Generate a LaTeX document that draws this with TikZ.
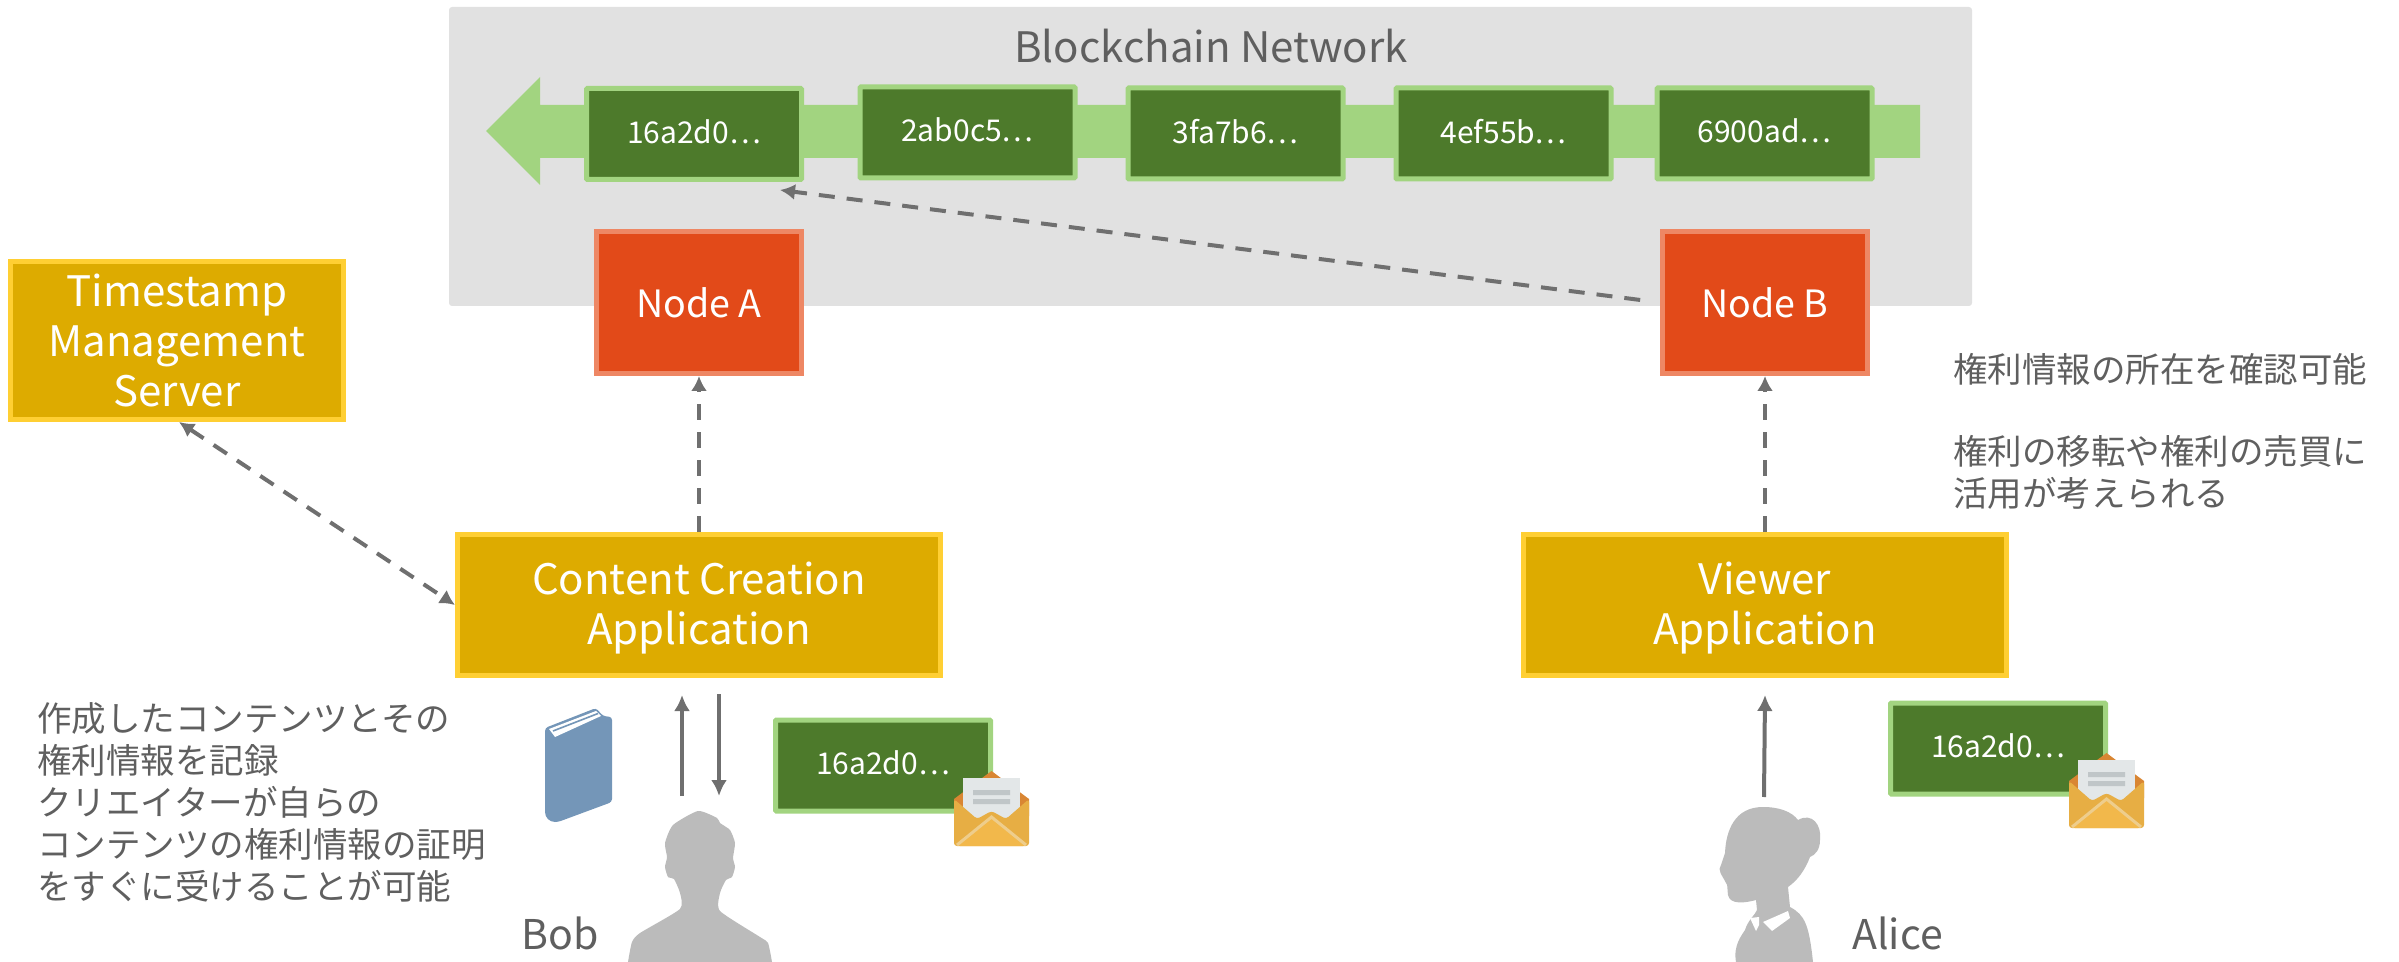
\documentclass[tikz,border=0pt]{standalone}
\usepackage{fontspec}
\setmainfont{Noto Sans CJK JP}
\usetikzlibrary{arrows.meta,calc,positioning}
\definecolor{netgray}{HTML}{E1E1E1}
\definecolor{chaingreen}{HTML}{A2D480}
\definecolor{blockgreen}{HTML}{4D7A2B}
\definecolor{nodered}{HTML}{E24A19}
\definecolor{nodeedge}{HTML}{EE8764}
\definecolor{appyellow}{HTML}{DDAB00}
\definecolor{appedge}{HTML}{FFCF33}
\definecolor{linegray}{HTML}{6F6F6F}
\definecolor{textgray}{HTML}{5F5F5F}
\definecolor{figgray}{HTML}{BBBBBB}
\definecolor{bookblue}{HTML}{7496B8}
\newcommand{\toprule}{\rule{0pt}{19pt}}
\tikzset{
    auto,node distance =27pt and 27pt,
    block/.style ={rectangle, draw=chaingreen, fill=blockgreen, line width=2.5pt, rounded corners=0.5pt,
        minimum width=107.5pt, minimum height=45.5pt, inner sep=0pt, text depth=2.5pt, text=white, font=\fontsize{15}{18}\selectfont},
    peer/.style ={rectangle, draw=nodeedge, fill=nodered, line width=2.5pt,
        minimum width=102.5pt, minimum height=71pt, inner sep=0pt, text=white, font=\fontsize{18.8}{22}\selectfont},
    app/.style ={rectangle, draw=appedge, fill=appyellow, line width=2.5pt, align=center,
        minimum width=241.5pt, minimum height=70.5pt, inner sep=0pt, text=white, font=\fontsize{21}{25}\selectfont},
    note/.style = {anchor=west, align=left, inner sep=0pt, text=textgray, font=\fontsize{17.25}{21}\selectfont},
    person/.style = {anchor=west, inner sep=0pt, text=textgray, font=\fontsize{20.5}{24}\selectfont},
    flow/.style = {-{Latex[length=8pt,width=8pt]}, draw=linegray, line width=2pt},
    link/.style = {-{Latex[length=7.5pt,width=8pt]}, draw=linegray, line width=2pt, dash pattern=on 8pt off 6pt},
    bilink/.style = {link, {Latex[length=7.5pt,width=8pt]}-{Latex[length=7.5pt,width=8pt]}},
    envelope/.pic = {
        \fill[fill={rgb,255:red,217;green,134;blue,51}] (0,28) -- (37.5,0) -- (75,28) -- (75,45) -- (0,45) -- cycle;
        \fill[fill={rgb,255:red,227;green,231;blue,232}] (9,7) rectangle (66,50);
        \fill[fill={rgb,255:red,192;green,198;blue,200}] (19,19) rectangle (56,24) (19,28) rectangle (56,33);
        \fill[fill={rgb,255:red,231;green,174;blue,68},rounded corners=1.5pt] (0,28) -- (23,48) -- (37.5,40) -- (52,48) -- (75,28) -- (75,75) -- (0,75) -- cycle;
        \fill[fill={rgb,255:red,242;green,184;blue,75},rounded corners=1.5pt] (3,75) -- (37.5,47) -- (72,75) -- cycle;
        \draw[draw={rgb,255:red,238;green,205;blue,140},line width=1.5pt] (3,74) -- (37.5,46) -- (72,74);
    }
}
\begin{document}
\begin{tikzpicture}[x=0.5pt,y=-0.5pt]
    \useasboundingbox (0,0) rectangle (2399,962);

    \node[fill=netgray, rounded corners=1.5pt, minimum width=761.5pt, minimum height=149.5pt, inner sep=0pt, outer sep=0pt] (network) at (1210.5,156.5) {};
    \node[text=textgray, font=\fontsize{21}{25}\selectfont, inner sep=0pt] (title) at (1211,46) {Blockchain Network};

    \fill[chaingreen] (486,131) -- (540,77) -- (540,105) -- (1920,105) -- (1920,158) -- (540,158) -- (540,185) -- cycle;

    \node[block] (b1) at (694,134) {16a2d0⋯};
    \node[block] (b2) at (967.5,132.5) {2ab0c5⋯};
    \node[block] (b3) [right =24pt of b2, yshift=-0.5pt] {3fa7b6⋯};
    \node[block] (b4) [right =24pt of b3] {4ef55b⋯};
    \node[block] (b5) [right =20.5pt of b4] {6900ad⋯};

    \node[peer] (nodea) at (699,302.5) {Node A};
    \node[peer] (nodeb) at (1765,302.5) {Node B};

    \node[app] (server) at (177,340.5) [minimum width=166.5pt, minimum height=79pt] {Timestamp\\Management\\Server};
    \node[app] (creator) at (699,605) {\toprule Content Creation\\Application};
    \node[app] (viewer) at (1765,605) {\toprule Viewer\\Application};

    \path (creator) edge[link] (nodea);
    \path (viewer) edge[link] (nodeb);
    \path ([xshift=1pt]server.south) edge[bilink] (creator.west);
    \path (nodeb.west) edge[link, shorten <=10pt] ([xshift=-12pt,yshift=-4pt]b1.south east);

    \node[block] (proofa) at (883,765.5) {16a2d0⋯};
    \node[block] (proofb) at (1998,748.5) {16a2d0⋯};
    \pic at (954,771) {envelope};
    \pic at (2069,753) {envelope};

    \fill[bookblue, rounded corners=1.5pt] (545,728) -- (596,708) -- (603,716) -- (612,717) -- (612,802) -- (558,822) [rounded corners=5pt] -- (545,822) [rounded corners=1.5pt] -- cycle;
    \fill[white] (549,729) -- (596,711) -- (601,716) -- (555,737) -- cycle;
    \draw[bookblue, line width=0.8pt] (553,731) -- (598,713.5);

    \fill[figgray] plot[smooth cycle, tension=0.35] coordinates {(698,811) (717,818) (720,823) (730,830) (735,843) (733,858) (735,867) (732,877) (726,880) (720,893) (720,911) (760,937) (768,943) (772,962) (772,966) (628,966) (628,962) (632,942) (640,933) (680,909) (680,893) (674,879) (668,877) (665,867) (667,857) (665,843) (673,825)};

    \fill[figgray] (1763,807) .. controls (1780,807) and (1792,812) .. (1798,820) .. controls (1812,812) and (1822,825) .. (1820,840)
        .. controls (1820,850) and (1815,855) .. (1810,857) .. controls (1805,870) and (1798,880) .. (1788,887)
        -- (1790,907) .. controls (1805,915) and (1809,925) .. (1813,962) -- (1736,962)
        .. controls (1733,945) and (1742,935) .. (1745,930) .. controls (1748,920) and (1755,915) .. (1757,910) -- (1756,900)
        .. controls (1745,903) and (1730,905) .. (1728,895) .. controls (1727,888) and (1728,885) .. (1726,883)
        .. controls (1722,875) and (1717,870) .. (1721,865) -- (1725,853) .. controls (1726,830) and (1735,807) .. (1763,807) -- cycle;
    \fill[white] (1750,918) -- (1759,917) -- (1759,925) -- (1756,931) -- cycle;
    \fill[white] (1763,922) -- (1788,911) -- (1790,918) -- (1772,931) -- cycle;

    \coordinate (bobup) at (682,695);
    \coordinate (bobfoot) at (682,796);
    \coordinate (bobtail) at (719,694);
    \coordinate (bobdown) at (719,796);
    \coordinate (alicefoot) at (1764,797);
    \coordinate (aliceup) at (1765,695);
    \path (bobfoot) edge[flow] (bobup);
    \path (bobtail) edge[flow] (bobdown);
    \path (alicefoot) edge[flow] (aliceup);

    \node[person] (bob) at (521,933) {Bob};
    \node[person] (alice) at (1852,933) {Alice};

    \node[note] (merit) at (37,802) {作成したコンテンツとその\\権利情報を記録\\クリエイターが自らの\\コンテンツの権利情報の証明\\をすぐに受けることが可能};
    \node[note] (confirm) at (1953,369) {権利情報の所在を確認可能};
    \node[note] (usage) at (1953,472.5) {権利の移転や権利の売買に\\活用が考えられる};
\end{tikzpicture}
\end{document}
